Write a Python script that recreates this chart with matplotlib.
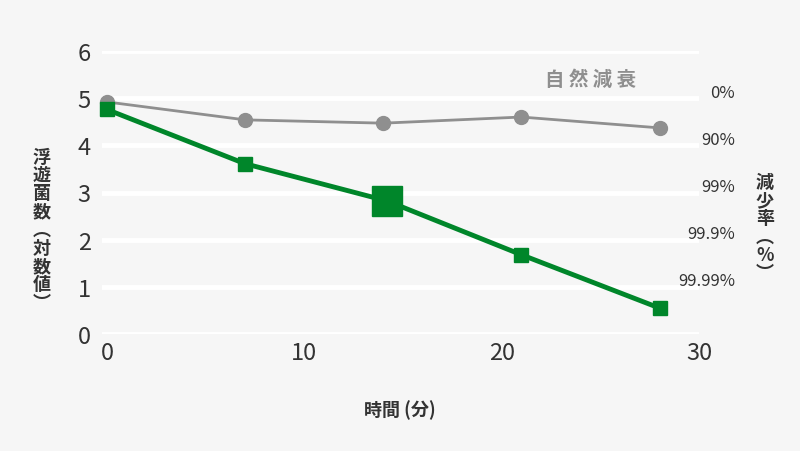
import matplotlib.pyplot as plt

plt.rcParams["font.family"] = ["Noto Sans CJK JP", "DejaVu Sans"]

BG = "#f6f6f6"
GREEN = "#00862a"
GRAY = "#8f8f8f"

minutes = [0, 7, 14, 21, 28]
natural = [4.92, 4.54, 4.47, 4.60, 4.37]
treated = [4.76, 3.61, 2.82, 1.68, 0.55]
treated_x = [0, 7, 14.2, 21, 28]
big_point = 2  # index of the highlighted sample

y_ticks = [0, 1, 2, 3, 4, 5, 6]
x_ticks = [0, 10, 20, 30]
rate_pos = [5, 4, 3, 2, 1]
rate_labels = ["0%", "90%", "99%", "99.9%", "99.99%"]


def vertical(s):
    return "\n".join(s)


fig = plt.figure(figsize=(8, 4.52), dpi=100, facecolor=BG)
ax = fig.add_axes([102 / 800, 1 - 335 / 452, (699 - 102) / 800, (335 - 52) / 452])
ax.set_facecolor(BG)
ax.set_xlim(-0.25, 30)
ax.set_ylim(0, 6)

for y in y_ticks:
    ax.axhline(y, color="white", lw=3.5, zorder=0)

ax.plot(minutes, natural, color=GRAY, lw=2, marker="o", ms=10, zorder=3, clip_on=False)
ax.plot(treated_x, treated, color=GREEN, lw=3.5, marker="s", ms=10, zorder=4, clip_on=False)
ax.plot([treated_x[big_point]], [treated[big_point]], color=GREEN, marker="s", ms=21,
        zorder=5, clip_on=False)

for s in ax.spines.values():
    s.set_visible(False)
ax.set_yticks(y_ticks)
ax.set_xticks(x_ticks)
ax.tick_params(length=0, labelsize=17, labelcolor="#333333")
ax.tick_params(axis="y", pad=8)
ax.tick_params(axis="x", pad=5)

# right side reduction rate labels
for p, lab in zip(rate_pos, rate_labels):
    ax.annotate(lab, xy=(1, p), xycoords=("axes fraction", "data"),
                xytext=(36, 6), textcoords="offset pixels",
                ha="right", va="center", fontsize=12, color="#333333")

ax.text(24.5, 5.4, "自 然 減 衰", color=GRAY, fontsize=14, fontweight="bold",
        ha="center", va="center")

fig.text(42 / 800, 1 - 230 / 452, vertical("浮遊菌数︵対数値︶"), ha="center",
         va="center", fontsize=13, fontweight="bold", color="#333333", linespacing=0.95)
fig.text(765 / 800, 1 - 228 / 452, vertical("減少率︵%︶"), ha="center",
         va="center", fontsize=13, fontweight="bold", color="#333333", linespacing=0.95)
fig.text(400 / 800, 1 - 410 / 452, "時間 (分)", ha="center", va="center",
         fontsize=13, fontweight="bold", color="#333333")

fig.savefig("out.png", dpi=100, facecolor=BG)
